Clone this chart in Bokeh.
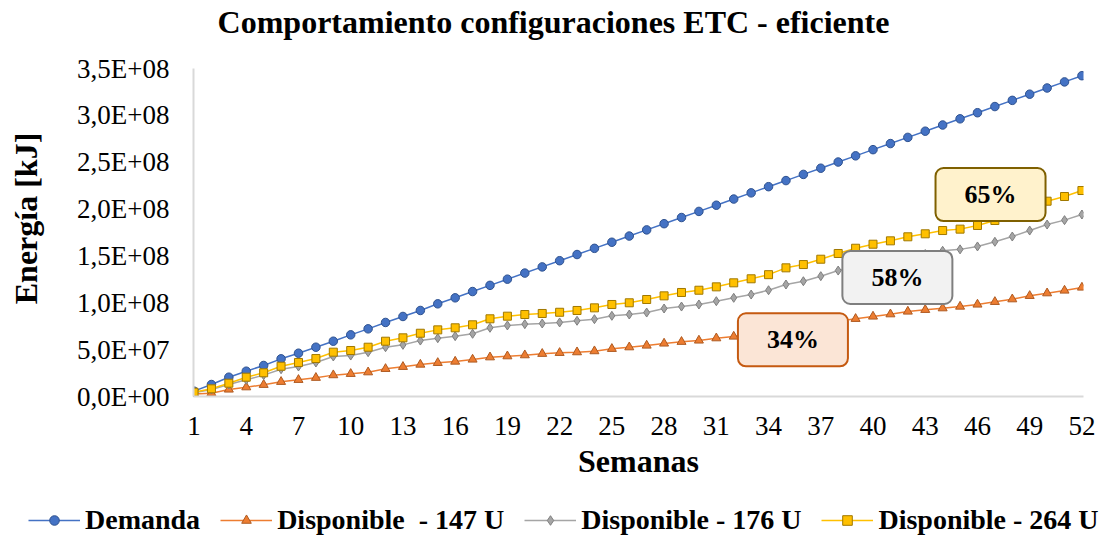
from bokeh.plotting import figure
from bokeh.layouts import column
from bokeh.models import Range1d, FixedTicker, Legend, LegendItem, Label, ColumnDataSource
from bokeh.embed import file_html
from bokeh.resources import INLINE

FONT = "Liberation Serif"

# ---------------- data (values in millions of kJ) ----------------
weeks = list(range(1, 53))

demanda_M = [5.7, 12.8, 20.6, 27.0, 33.1, 40.2, 46.2, 52.6, 59.0, 65.8,
             72.2, 79.0, 85.4, 91.8, 98.9, 105.3, 112.0, 118.6, 125.2, 131.7,
             138.3, 144.9, 151.5, 158.1, 164.6, 171.2, 177.8, 184.4, 191.0, 197.5,
             204.1, 210.7, 217.3, 223.9, 230.4, 237.0, 243.6, 250.2, 256.8, 263.4,
             269.9, 276.5, 283.1, 289.7, 296.3, 302.8, 309.4, 316.0, 322.6, 329.2,
             335.7, 342.3]

disp147_M = [2.8, 3.5, 7.5, 9.9, 12.5, 15.7, 17.8, 20.0, 22.8, 24.2,
             25.9, 29.5, 31.7, 34.1, 35.9, 37.3, 39.5, 41.9, 43.0, 44.1,
             45.6, 46.6, 47.3, 48.4, 50.9, 52.6, 54.4, 56.6, 58.4, 59.8,
             62.2, 64.0, 66.7, 69.4, 72.1, 74.8, 77.5, 80.2, 82.9, 85.4,
             87.8, 90.7, 92.5, 94.2, 96.0, 98.2, 101.0, 103.8, 107.4, 110.2,
             113.1, 116.3]

disp176_M = [4.0, 7.5, 12.8, 17.8, 22.8, 29.1, 32.0, 36.3, 42.7, 43.7,
             47.3, 52.6, 55.1, 59.7, 62.2, 64.4, 66.9, 73.3, 75.8, 77.2,
             77.9, 79.0, 80.8, 82.5, 86.1, 87.5, 89.6, 93.9, 96.0, 98.2,
             101.7, 105.3, 108.8, 113.4, 119.5, 123.0, 128.4, 134.4, 138.0, 141.5,
             145.0, 148.5, 152.0, 155.5, 157.0, 160.1, 165.1, 170.7, 177.1, 183.5,
             188.2, 194.2]

disp264_M = [4.6, 8.2, 14.2, 20.6, 25.3, 32.3, 36.3, 40.5, 47.3, 49.1,
             52.6, 59.0, 62.6, 67.5, 71.1, 73.3, 76.5, 82.9, 85.7, 87.5,
             88.6, 89.9, 91.8, 94.6, 98.2, 100.0, 103.5, 107.4, 111.0, 113.4,
             117.0, 121.3, 125.6, 130.0, 137.3, 140.8, 146.5, 152.6, 158.2, 162.5,
             166.1, 170.4, 173.6, 177.1, 178.6, 182.5, 187.8, 194.5, 201.5, 208.4,
             213.4, 219.8]

series_names = ["Demanda", "Disponible  - 147 U", "Disponible - 176 U", "Disponible - 264 U"]
series_values = [demanda_M, disp147_M, disp176_M, disp264_M]

x_ticks = [1, 4, 7, 10, 13, 16, 19, 22, 25, 28, 31, 34, 37, 40, 43, 46, 49, 52]
y_ticks = [0, 50000000, 100000000, 150000000, 200000000, 250000000, 300000000, 350000000]
y_tick_labels = ["0,0E+00", "5,0E+07", "1,0E+08", "1,5E+08", "2,0E+08", "2,5E+08", "3,0E+08", "3,5E+08"]
y_axis_max = 350000000

callout_texts = ["34%", "58%", "65%"]
callout_weeks = [35.4, 41.4, 46.75]
callout_values_M = [60.5, 127.0, 215.5]

title_text = "Comportamiento configuraciones ETC - eficiente"
x_label = "Semanas"
y_label = "Energía [kJ]"

# ---------------- layout (pixels) ----------------
W, H = 1099, 537
H_MAIN = 490
FRAME_LEFT, FRAME_RIGHT, FRAME_BOTTOM = 193, 1083, 396
AXIS_TOP = 68  # pixel row of the top of the y axis (3,5E+08)
y_top = y_axis_max * FRAME_BOTTOM / (FRAME_BOTTOM - AXIS_TOP)

# ---------------- styles ----------------
styles = [
    dict(line="#4472C4", marker="circle", fill="#4472C4", edge="#2F528F", size=8.5),
    dict(line="#ED7D31", marker="triangle", fill="#ED7D31", edge="#AE5A21", size=9),
    dict(line="#A5A5A5", marker="diamond", fill="#A5A5A5", edge="#7F7F7F", size=9),
    dict(line="#FFC000", marker="square", fill="#FFC000", edge="#A07800", size=8),
]
callout_styles = [
    dict(fill="#FBE5D6", edge="#C55A11"),
    dict(fill="#F2F2F2", edge="#7F7F7F"),
    dict(fill="#FFF2CC", edge="#7F6000"),
]

p = figure(width=W, height=H_MAIN, output_backend="svg", toolbar_location=None,
           x_range=Range1d(0.97, 52.09), y_range=Range1d(0, y_top),
           min_border_left=FRAME_LEFT, min_border_right=W - FRAME_RIGHT,
           min_border_top=0, min_border_bottom=H_MAIN - FRAME_BOTTOM)
p.frame_align = False
p.outline_line_color = None
p.xgrid.visible = False
p.ygrid.visible = False
p.background_fill_color = "white"
p.border_fill_color = "white"

for ax in (p.xaxis[0], p.yaxis[0]):
    ax.axis_line_color = "#D9D9D9"
    ax.axis_line_width = 2
    ax.major_tick_line_color = None
    ax.minor_tick_line_color = None
    ax.major_label_text_font = FONT
    ax.major_label_text_font_size = "27px"
    ax.major_label_text_color = "black"
    ax.axis_label_text_font = FONT
    ax.axis_label_text_font_size = "32px"
    ax.axis_label_text_font_style = "bold"
    ax.axis_label_text_color = "black"

p.xaxis.ticker = FixedTicker(ticks=x_ticks)
p.xaxis.major_label_standoff = 14
p.xaxis.axis_label = x_label
p.xaxis.axis_label_standoff = 5

p.yaxis.ticker = FixedTicker(ticks=y_ticks)
p.yaxis.bounds = (0, y_axis_max)
p.yaxis.major_label_overrides = dict(zip(y_ticks, y_tick_labels))
p.yaxis.major_label_standoff = 18
# trailing no-break spaces centre the rotated label on the drawn axis, not on the frame
p.yaxis.axis_label = y_label + "\u00a0" * 5
p.yaxis.axis_label_standoff = 30

# legend lives in its own strip below the chart
lg = figure(width=W, height=H - H_MAIN, output_backend="svg", toolbar_location=None,
            x_range=Range1d(0, 1), y_range=Range1d(0, 1), x_axis_type=None, y_axis_type=None,
            min_border_left=0, min_border_right=0, min_border_top=0, min_border_bottom=0)
lg.frame_align = False
lg.outline_line_color = None
lg.xgrid.visible = False
lg.ygrid.visible = False
lg.border_fill_color = "white"
lg.background_fill_color = "white"

items = []
for name, vals, st in zip(series_names, series_values, styles):
    src = ColumnDataSource(dict(x=weeks, y=[v * 1e6 for v in vals]))
    p.line("x", "y", source=src, line_color=st["line"], line_width=1.5)
    p.scatter("x", "y", source=src, marker=st["marker"], size=st["size"],
              fill_color=st["fill"], line_color=st["edge"], line_width=1)
    # same series in the legend strip (its data fall outside that strip's ranges)
    l = lg.line("x", "y", source=src, line_color=st["line"], line_width=1.5)
    s = lg.scatter("x", "y", source=src, marker=st["marker"], size=st["size"],
                   fill_color=st["fill"], line_color=st["edge"], line_width=1)
    items.append(LegendItem(label=name, renderers=[l, s]))

legend = Legend(items=items, orientation="horizontal", location=(28, 1),
                glyph_width=52, glyph_height=24, label_standoff=5, spacing=20,
                padding=0, margin=0, border_line_alpha=0, background_fill_alpha=0,
                label_text_font=FONT, label_text_font_size="28px",
                label_text_font_style="bold", label_text_color="black")
lg.add_layout(legend)

for txt, wk, val, cs in zip(callout_texts, callout_weeks, callout_values_M, callout_styles):
    p.add_layout(Label(x=wk, y=val * 1e6, text=txt, text_align="center", text_baseline="middle",
                       text_font=FONT, text_font_size="26px", text_font_style="bold",
                       text_color="black", background_fill_color=cs["fill"],
                       border_line_color=cs["edge"], border_line_width=2,
                       padding=dict(left=29, right=29, top=12, bottom=12), border_radius=8))

p.add_layout(Label(x=553 - FRAME_LEFT, y=FRAME_BOTTOM - 21, x_units="screen", y_units="screen",
                   text=title_text, text_align="center", text_baseline="middle", text_font=FONT,
                   text_font_size="32px", text_font_style="bold", text_color="black"))

page = column(p, lg, spacing=0)
open("out.html", "w").write(file_html(page, INLINE))
